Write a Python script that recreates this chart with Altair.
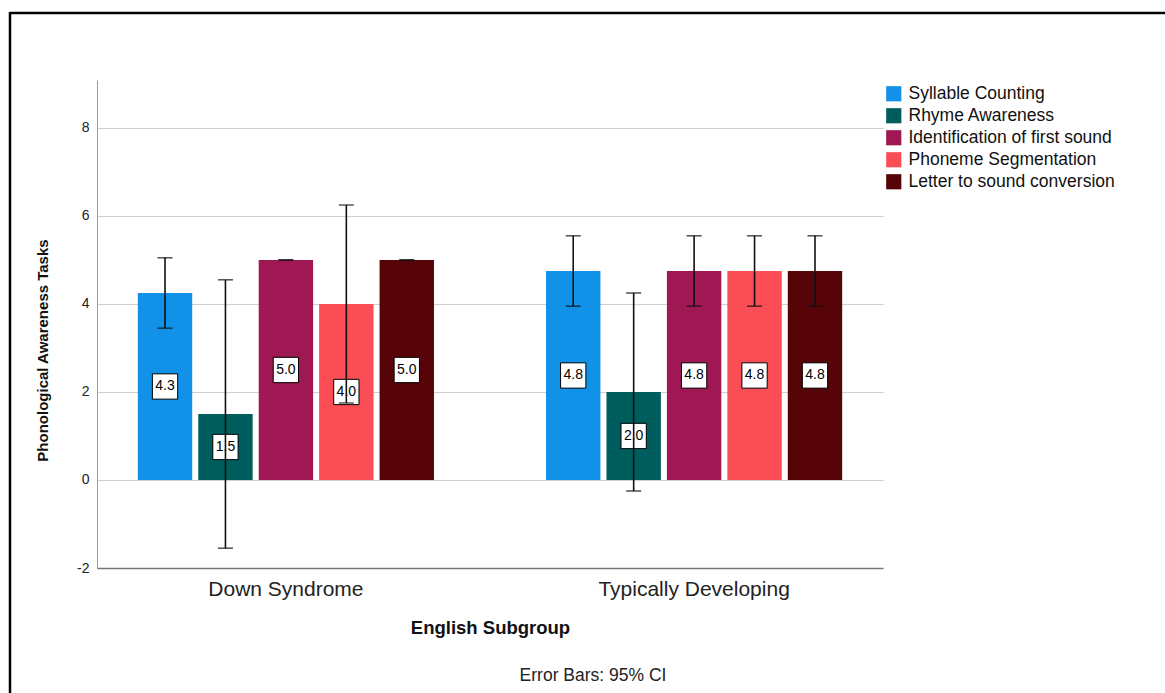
import altair as alt
import pandas as pd

# Group means and 95% confidence limits per phonological awareness task
groups = ["Down Syndrome", "Typically Developing"]
tasks = [
    "Syllable Counting",
    "Rhyme Awareness",
    "Identification of first sound",
    "Phoneme Segmentation",
    "Letter to sound conversion",
]
colors = ["#1192e8", "#005d5d", "#9f1853", "#fa4d56", "#570408"]

means_ds = [4.25, 1.5, 5.0, 4.0, 5.0]
lower_ds = [3.45, -1.55, 5.0, 1.75, 5.0]
upper_ds = [5.05, 4.55, 5.0, 6.25, 5.0]

means_td = [4.75, 2.0, 4.75, 4.75, 4.75]
lower_td = [3.95, -0.25, 3.95, 3.95, 3.95]
upper_td = [5.55, 4.25, 5.55, 5.55, 5.55]

y_ticks = [-2, 0, 2, 4, 6, 8]

rows = []
for g, means, lows, ups in [
    (groups[0], means_ds, lower_ds, upper_ds),
    (groups[1], means_td, lower_td, upper_td),
]:
    for t, m, lo, hi in zip(tasks, means, lows, ups):
        rows.append({"group": g, "task": t, "mean": m, "lo": lo, "hi": hi})
df = pd.DataFrame(rows)

FONT = "Liberation Sans"

x_enc = alt.X(
    "group:N",
    sort=groups,
    scale=alt.Scale(paddingInner=0.2745, paddingOuter=0.1),
    axis=alt.Axis(
        title="English Subgroup",
        labelAngle=0,
        labelFontSize=21,
        labelFont=FONT,
        labelColor="#222222",
        labelPadding=10,
        labelLimit=0,
        ticks=False,
        titleFont=FONT,
        titleFontSize=18.5,
        titleFontWeight="bold",
        titleColor="#111111",
        titlePadding=19,
        domainColor="#777777",
        domainWidth=1.5,
        grid=False,
    ),
)
xoff_enc = alt.XOffset(
    "task:N", sort=tasks, scale=alt.Scale(paddingInner=0.1, paddingOuter=0)
)
y_scale = alt.Scale(domain=[-2, 9.09], nice=False, zero=False)

base = alt.Chart(df)

bars = base.mark_bar().encode(
    x=x_enc,
    xOffset=xoff_enc,
    y=alt.Y(
        "mean:Q",
        scale=y_scale,
        axis=alt.Axis(
            title="Phonological Awareness Tasks",
            values=y_ticks,
            labelExpr="'' + datum.value",
            labelFontSize=14,
            labelFont=FONT,
            labelColor="#222222",
            labelPadding=8,
            ticks=False,
            titleFont=FONT,
            titleFontSize=15,
            titleFontWeight="bold",
            titleColor="#111111",
            titlePadding=26,
            titleY=270,
            domainColor="#999999",
            domainWidth=1,
            gridColor="#cfcfcf",
            gridWidth=1,
        ),
    ),
    y2=alt.datum(0),
    color=alt.Color(
        "task:N",
        sort=tasks,
        scale=alt.Scale(domain=tasks, range=colors),
        legend=alt.Legend(
            title=None,
            orient="none",
            legendX=788,
            legendY=5,
            symbolType="square",
            symbolSize=230,
            symbolStrokeWidth=0,
            labelFont=FONT,
            labelFontSize=17.5,
            labelColor="#111111",
            labelOffset=6,
            labelLimit=0,
            rowPadding=3,
        ),
    ),
)

# Value labels in white boxes at mid-height of each bar
mid = base.transform_calculate(mid="datum.mean / 2", lab="format(datum.mean, '.1f')")
boxes = mid.mark_point(
    shape="square", size=640, filled=True, fill="white", stroke="black",
    strokeWidth=1, opacity=1,
).encode(x=x_enc, xOffset=xoff_enc, y=alt.Y("mid:Q", scale=y_scale))
labels = mid.mark_text(font=FONT, fontSize=14, color="black").encode(
    x=x_enc, xOffset=xoff_enc, y=alt.Y("mid:Q", scale=y_scale), text="lab:N"
)

# 95% CI error bars
whisker = base.mark_rule(color="#111111", strokeWidth=1.6).encode(
    x=x_enc, xOffset=xoff_enc, y=alt.Y("lo:Q", scale=y_scale), y2="hi:Q"
)
cap_lo = base.mark_tick(color="#111111", thickness=1.6, size=15).encode(
    x=x_enc, xOffset=xoff_enc, y=alt.Y("lo:Q", scale=y_scale)
)
cap_hi = base.mark_tick(color="#111111", thickness=1.6, size=15).encode(
    x=x_enc, xOffset=xoff_enc, y=alt.Y("hi:Q", scale=y_scale)
)

note_src = alt.Chart(alt.Data(values=[{"t": "Error Bars: 95% CI"}]))
note = note_src.mark_text(font=FONT, fontSize=17.5, color="#222222").encode(
    x=alt.value(496), y=alt.value(596), text="t:N"
)

# Outer frame: top and left edges
frame_top = note_src.mark_rule(color="black", strokeWidth=2.5).encode(
    x=alt.value(-87), x2=alt.value(1070), y=alt.value(-67)
)
frame_left = note_src.mark_rule(color="black", strokeWidth=2.5).encode(
    x=alt.value(-87), y=alt.value(-68), y2=alt.value(620)
)

chart = (
    alt.layer(bars, boxes, labels, whisker, cap_lo, cap_hi, note, frame_top, frame_left)
    .properties(
        width=786,
        height=488,
        autosize=alt.AutoSizeParams(type="none"),
        padding={"left": 97, "top": 80, "right": 282, "bottom": 125},
        background="white",
    )
    .configure_view(stroke=None)
)

chart.save("out.html", embed_options={"renderer": "svg", "actions": False})
